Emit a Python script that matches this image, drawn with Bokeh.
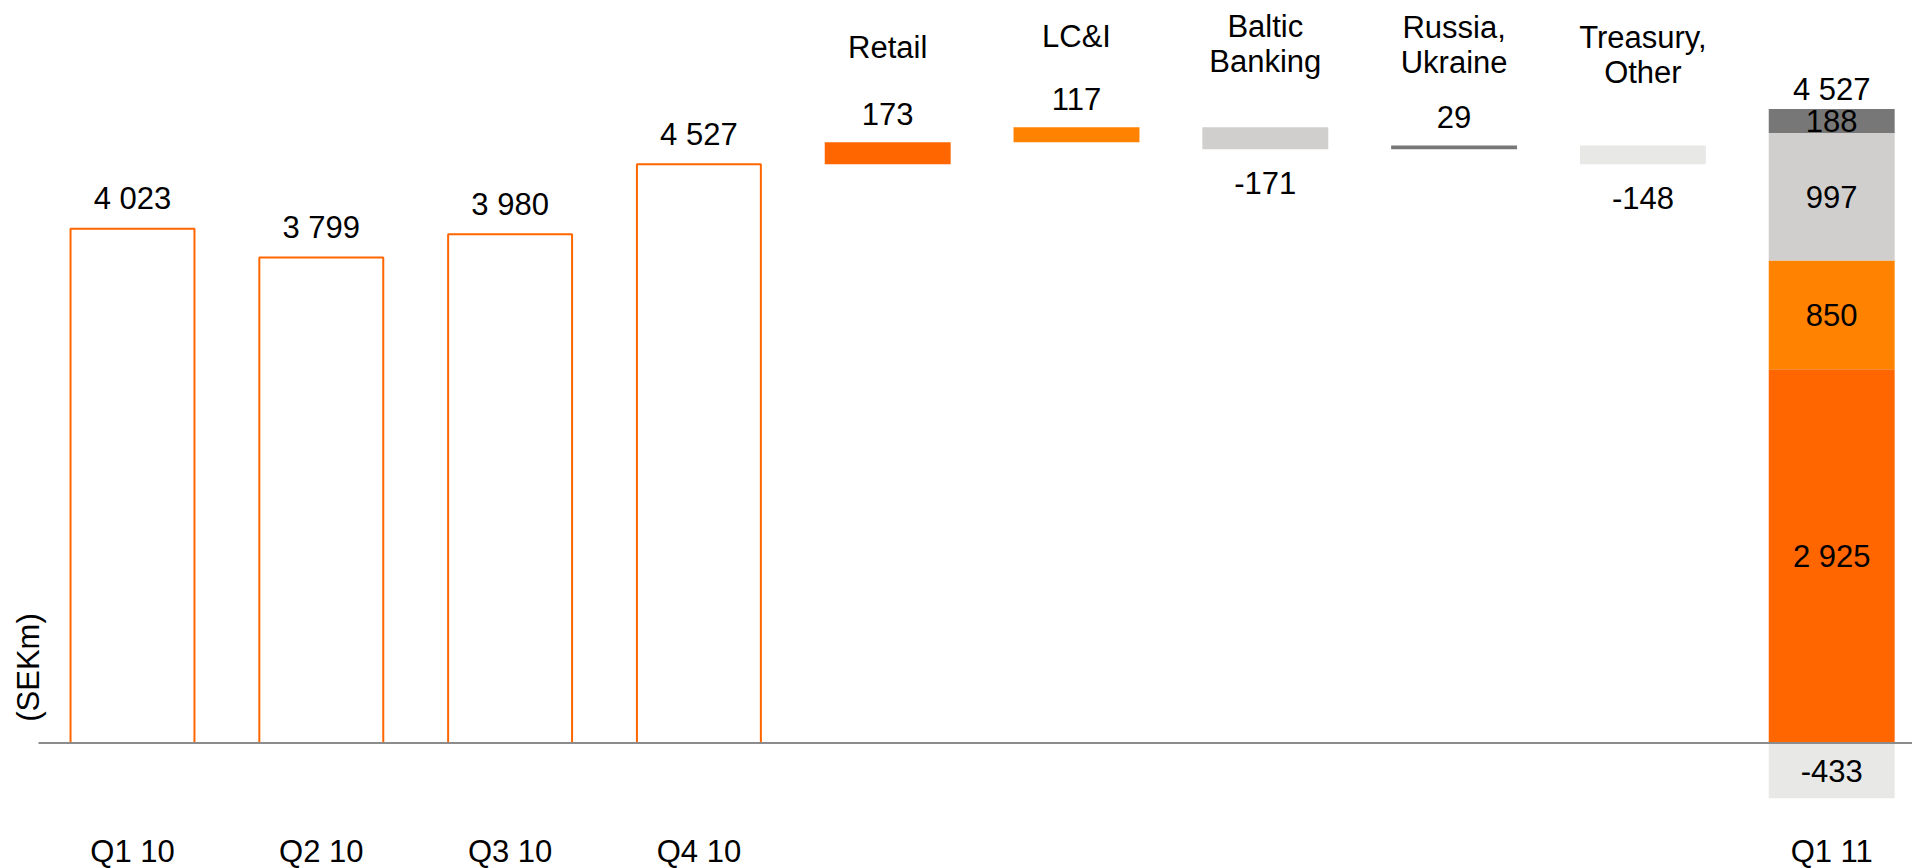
import numpy as np
from bokeh.plotting import figure
from bokeh.models import Range1d
from bokeh.core.properties import value
from bokeh.embed import file_html
from bokeh.resources import INLINE

# ---------------- data ----------------
quarters = ["Q1 10", "Q2 10", "Q3 10", "Q4 10"]
quarter_values = [4023, 3799, 3980, 4527]

segments = ["Retail", "LC&I", "Baltic\nBanking", "Russia,\nUkraine", "Treasury,\nOther"]
segment_changes = [173, 117, -171, 29, -148]

final_label = "Q1 11"
final_total = 4527
final_parts = [2925, 850, 997, 188, -433]   # Retail, LC&I, Baltic, Russia/Ukraine, Treasury/Other
y_unit_label = "(SEKm)"

# ---------------- style / layout ----------------
W, H = 1912, 868
SX = 188.8          # px per category
X0 = 132.0          # px of first category centre
SY = 0.12782        # px per SEKm
Y0 = 742.5          # px of zero line
BAR_W = 0.667
FONT = value("Liberation Sans")
FS = "31px"
BASE_FIX = 11       # px the renderer puts the alphabetic baseline too low
seg_colors = ["#FF6600", "#FF8200", "#D0CFCD", "#777777", "#E8E8E6"]
header_last_baseline_px = [58, 47, 72, 73, 83]
LINE_GAP_PX = 35


def px_x(px):
    return (px - X0) / SX


def px_y(py):
    return (Y0 - py) / SY


def dy(px):
    return px / SY


def fmt(v):
    return f"{v:,}".replace(",", " ")


p = figure(width=W, height=H, output_backend="svg", toolbar_location=None,
           x_range=Range1d(px_x(0), px_x(W)), y_range=Range1d(px_y(H), px_y(0)),
           x_axis_location=None, y_axis_location=None, min_border=0,
           outline_line_color=None, background_fill_color="white",
           border_fill_color="white")
p.grid.visible = False


def txt(x, y, t, align="center", baseline="alphabetic", angle=0.0):
    yy = [v + dy(BASE_FIX) for v in y] if baseline == "alphabetic" else y
    p.text(x=x, y=yy, text=t, text_font=FONT, text_font_size=value(FS),
           text_align=align, text_baseline=baseline, text_color="#000000",
           angle=angle)


nq = len(quarters)
ns = len(segments)
xq = np.arange(nq)
xs = np.arange(nq, nq + ns)
xf = nq + ns

# quarter bars (outlined)
p.vbar(x=xq, top=quarter_values, bottom=0, width=BAR_W - 2 / SX,
       fill_color="white", line_color="#FF6600", line_width=2)
txt(list(xq), [v + dy(19) for v in quarter_values], [fmt(v) for v in quarter_values])
txt(list(xq), [px_y(862)] * nq, quarters)

# waterfall segments
levels = quarter_values[-1] + np.concatenate([[0], np.cumsum(segment_changes)])
bottoms = np.minimum(levels[:-1], levels[1:])
tops = np.maximum(levels[:-1], levels[1:])
p.vbar(x=xs, top=tops, bottom=bottoms, width=BAR_W, fill_color=seg_colors,
       line_color=None)
for i, (x, c) in enumerate(zip(xs, segment_changes)):
    if c >= 0:
        txt([x], [tops[i] + dy(17)], [fmt(c)])
    else:
        txt([x], [bottoms[i] - dy(45)], [fmt(c)])
    lines = segments[i].split("\n")
    last = header_last_baseline_px[i]
    for j, line in enumerate(lines):
        ypx = last - (len(lines) - 1 - j) * LINE_GAP_PX
        txt([x], [px_y(ypx)], [line])

# final stacked bar
pos = [v for v in final_parts if v >= 0]
pos_cols = [c for v, c in zip(final_parts, seg_colors) if v >= 0]
neg = [v for v in final_parts if v < 0]
neg_cols = [c for v, c in zip(final_parts, seg_colors) if v < 0]
ptop = np.cumsum(pos)
pbot = ptop - np.array(pos)
nbot = np.cumsum(neg)
ntop = nbot - np.array(neg)
p.vbar(x=[xf] * len(pos), top=ptop, bottom=pbot, width=BAR_W,
       fill_color=pos_cols, line_color=None)
p.vbar(x=[xf] * len(neg), top=ntop, bottom=nbot, width=BAR_W,
       fill_color=neg_cols, line_color=None)
for v, t, b in zip(pos, ptop, pbot):
    txt([xf], [(t + b) / 2 - dy(11)], [fmt(v)])
for v, t, b in zip(neg, ntop, nbot):
    txt([xf], [(t + b) / 2 - dy(11)], [fmt(v)])
txt([xf], [ptop[-1] + dy(9)], [fmt(final_total)])
txt([xf], [px_y(862)], [final_label])

# zero line
p.segment(x0=[px_x(38)], y0=[0], x1=[px_x(W)], y1=[0], line_color="#8C8C8C",
          line_width=2)

# unit label
txt([px_x(28)], [px_y(667)], [y_unit_label], baseline="middle", angle=np.pi / 2)

open("out.html", "w").write(file_html(p, INLINE))
